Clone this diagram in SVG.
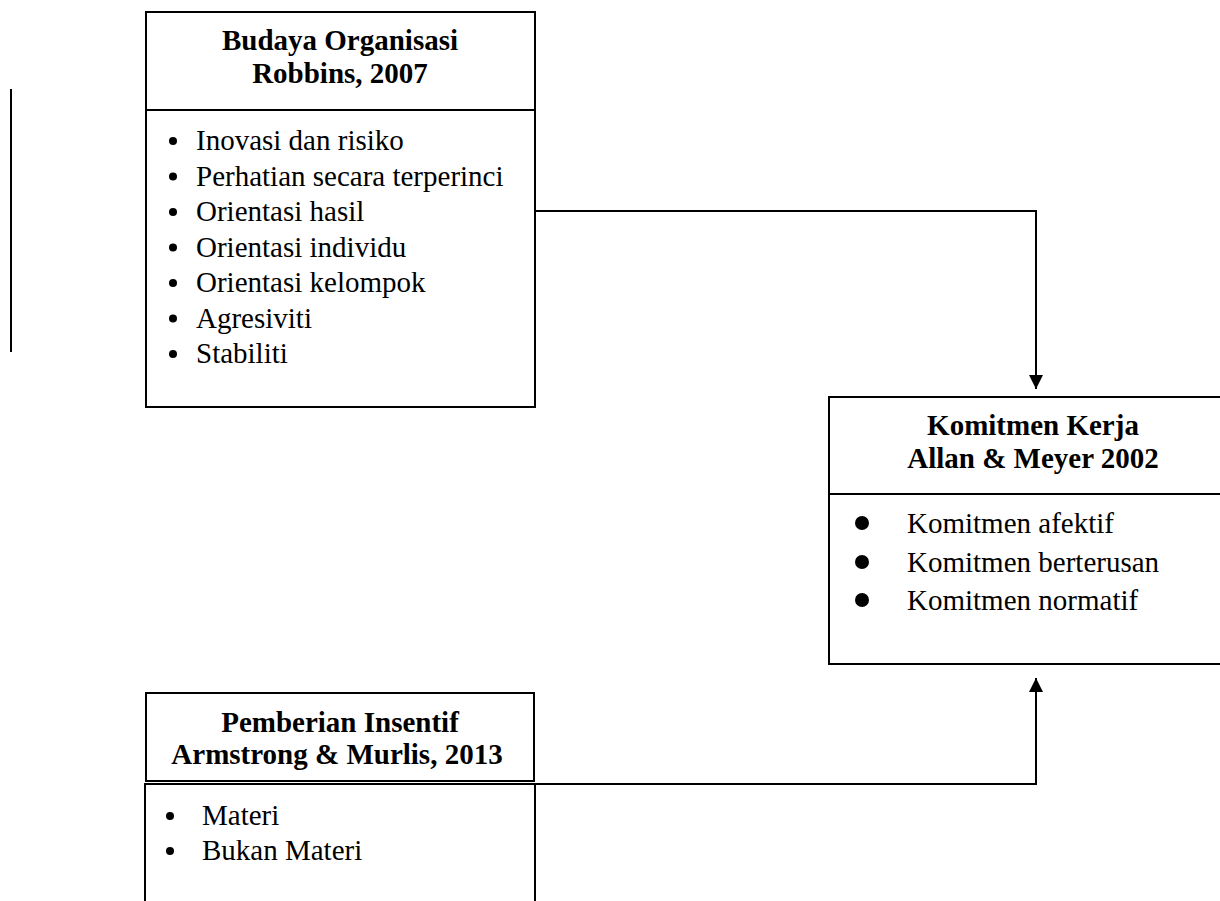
<svg xmlns="http://www.w3.org/2000/svg" width="1220" height="901" viewBox="0 0 1220 901">
<style>
  .box{fill:#fff;stroke:#000;stroke-width:2}
  .ln{fill:none;stroke:#000;stroke-width:2}
  .t{font-family:"Liberation Serif","Times New Roman",serif;font-size:29px;fill:#000}
  .h{font-family:"Liberation Serif","Times New Roman",serif;font-size:29px;font-weight:bold;fill:#000;text-anchor:middle}
</style>
<defs>
  <marker id="arr" viewBox="0 0 14 14" refX="14" refY="7" markerWidth="14" markerHeight="14" markerUnits="userSpaceOnUse" orient="auto">
    <path d="M0,0 L14,7 L0,14 Z" fill="#000"/>
  </marker>
</defs>
<rect width="1220" height="901" fill="#fff"/>
<line x1="11" y1="89" x2="11" y2="352" class="ln"/>
<g id="connectors">
  <polyline points="535,211 1036,211 1036,389" class="ln" marker-end="url(#arr)"/>
  <polyline points="535,784 1036,784 1036,678" class="ln" marker-end="url(#arr)"/>
</g>
<g id="budaya">
  <rect x="146" y="12" width="389" height="395" class="box"/>
  <line x1="146" y1="110" x2="535" y2="110" class="ln"/>
  <text x="340" y="50" class="h">Budaya Organisasi</text>
  <text x="340" y="83" class="h">Robbins, 2007</text>
  <g fill="#000">
    <circle cx="173" cy="141" r="4"/>
    <circle cx="173" cy="176.5" r="4"/>
    <circle cx="173" cy="212" r="4"/>
    <circle cx="173" cy="247.5" r="4"/>
    <circle cx="173" cy="283" r="4"/>
    <circle cx="173" cy="318.5" r="4"/>
    <circle cx="173" cy="354" r="4"/>
  </g>
  <text x="196" y="150" class="t">Inovasi dan risiko</text>
  <text x="196" y="185.5" class="t">Perhatian secara terperinci</text>
  <text x="196" y="221" class="t">Orientasi hasil</text>
  <text x="196" y="256.5" class="t">Orientasi individu</text>
  <text x="196" y="292" class="t">Orientasi kelompok</text>
  <text x="196" y="327.5" class="t">Agresiviti</text>
  <text x="196" y="363" class="t">Stabiliti</text>
</g>
<g id="komitmen">
  <rect x="829" y="397" width="420" height="267" class="box"/>
  <line x1="829" y1="494" x2="1220" y2="494" class="ln"/>
  <text x="1033" y="435" class="h">Komitmen Kerja</text>
  <text x="1033" y="468" class="h">Allan &amp; Meyer 2002</text>
  <g fill="#000">
    <circle cx="862" cy="523" r="7"/>
    <circle cx="862" cy="562" r="7"/>
    <circle cx="862" cy="600" r="7"/>
  </g>
  <text x="907" y="533" class="t">Komitmen afektif</text>
  <text x="907" y="572" class="t">Komitmen berterusan</text>
  <text x="907" y="610" class="t">Komitmen normatif</text>
</g>
<g id="insentif">
  <rect x="146" y="693" width="388" height="88" class="box"/>
  <rect x="145" y="784" width="390" height="140" class="box"/>
  <text x="340" y="732" class="h">Pemberian Insentif</text>
  <text x="337" y="764" class="h">Armstrong &amp; Murlis, 2013</text>
  <g fill="#000">
    <circle cx="170" cy="816" r="4"/>
    <circle cx="170" cy="851" r="4"/>
  </g>
  <text x="202" y="825" class="t">Materi</text>
  <text x="202" y="860" class="t">Bukan Materi</text>
</g>
</svg>
